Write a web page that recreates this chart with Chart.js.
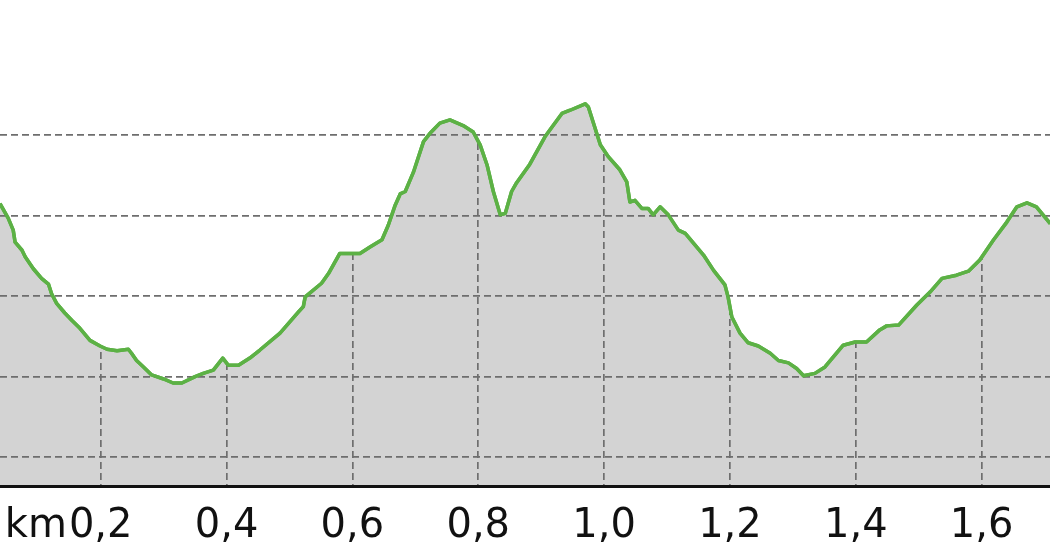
<!DOCTYPE html>
<html lang="pt">
<head>
    <meta charset="UTF-8">
    <title>Perfil de elevação</title>
    <script src="https://cdn.jsdelivr.net/npm/chart.js"></script>
    <style>
        body {
            margin: 0;
            background: #fff;
        }
        canvas {
            display: block;
        }
    </style>
</head>
<body>
    <canvas id="profileChart" width="1050" height="560"></canvas>

    <script>
        // distance along the track (km) and elevation (m)
        const distanceKm = [
            0.040, 0.053, 0.061, 0.064, 0.075, 0.080, 0.093, 0.106, 0.117, 0.122,
            0.130, 0.143, 0.154, 0.167, 0.183, 0.199, 0.210, 0.226, 0.244, 0.249,
            0.257, 0.268, 0.281, 0.300, 0.315, 0.329, 0.350, 0.363, 0.379, 0.394,
            0.403, 0.419, 0.437, 0.453, 0.485, 0.514, 0.522, 0.525, 0.551, 0.562,
            0.580, 0.612, 0.628, 0.647, 0.657, 0.668, 0.676, 0.684, 0.697, 0.713,
            0.723, 0.739, 0.755, 0.776, 0.792, 0.803, 0.814, 0.824, 0.835, 0.843,
            0.853, 0.861, 0.882, 0.906, 0.919, 0.933, 0.946, 0.970, 0.975, 0.994,
            1.007, 1.025, 1.036, 1.041, 1.049, 1.060, 1.070, 1.078, 1.089, 1.102,
            1.118, 1.129, 1.158, 1.174, 1.192, 1.197, 1.203, 1.216, 1.229, 1.245,
            1.264, 1.277, 1.293, 1.306, 1.317, 1.335, 1.351, 1.367, 1.380, 1.399,
            1.417, 1.438, 1.449, 1.468, 1.497, 1.518, 1.537, 1.560, 1.579, 1.597,
            1.619, 1.640, 1.656, 1.672, 1.687, 1.709
        ];
        const elevation = [
            231.5, 229.7, 228.2, 226.7, 225.7, 224.9, 223.4, 222.2, 221.5, 220.3,
            219.1, 217.9, 217.0, 216.0, 214.5, 213.8, 213.4, 213.2, 213.4, 212.9,
            212.0, 211.2, 210.2, 209.7, 209.2, 209.2, 210.0, 210.4, 210.8, 212.3,
            211.4, 211.4, 212.3, 213.3, 215.4, 218.0, 218.7, 219.9, 221.6, 222.8,
            225.3, 225.3, 226.1, 227.0, 228.8, 231.3, 232.7, 233.0, 235.4, 239.2,
            240.2, 241.5, 241.9, 241.2, 240.4, 238.8, 236.3, 233.0, 230.1, 230.3,
            233.0, 234.1, 236.4, 239.8, 241.2, 242.7, 243.1, 243.9, 243.5, 238.8,
            237.3, 235.7, 234.2, 231.7, 231.9, 230.9, 230.9, 230.1, 231.1, 230.1,
            228.2, 227.8, 225.1, 223.2, 221.4, 219.9, 217.4, 215.4, 214.2, 213.8,
            212.9, 212.0, 211.7, 211.0, 210.1, 210.4, 211.2, 212.7, 213.9, 214.3,
            214.3, 215.8, 216.3, 216.4, 218.9, 220.5, 222.2, 222.6, 223.1, 224.5,
            227.0, 229.2, 231.1, 231.6, 231.1, 229.0
        ];

        const xTicks = [0.2, 0.4, 0.6, 0.8, 1.0, 1.2, 1.4, 1.6];
        const yGridLines = [200, 210, 220, 230, 240];
        const unitLabel = 'km';
        const xRange = [0.04, 1.7086];
        const yRange = [196.4, 256.8];

        const labelFont = { family: 'DejaVu Sans', size: 40 };
        const gridDash = [7, 4];

        // grey under the profile: paint the plot area, the white fill above the line covers the rest
        const areaBackground = {
            id: 'areaBackground',
            beforeDraw(chart) {
                const { ctx, chartArea: a } = chart;
                ctx.save();
                ctx.fillStyle = '#d3d3d3';
                ctx.fillRect(a.left, a.top, a.right - a.left, a.bottom - a.top);
                ctx.restore();
            }
        };

        // horizontal grid is drawn above the datasets, so stroke the line once more on top
        const lineOnTop = {
            id: 'lineOnTop',
            afterDraw(chart) {
                const { ctx, chartArea: a } = chart;
                ctx.save();
                ctx.beginPath();
                ctx.rect(a.left, a.top, a.right - a.left, a.bottom - a.top);
                ctx.clip();
                chart.getDatasetMeta(0).dataset.draw(ctx, a);
                ctx.restore();
            }
        };

        // "km" sits just left of the first distance label
        const unitLabelPlugin = {
            id: 'unitLabel',
            afterDraw(chart) {
                const scale = chart.scales.x;
                const ctx = chart.ctx;
                const opts = scale.options.ticks;
                const lineHeight = labelFont.size * 1.2;
                const first = scale.ticks[0];
                ctx.save();
                ctx.font = labelFont.size + 'px "' + labelFont.family + '"';
                const firstW = ctx.measureText(first.label).width;
                const xPos = scale.getPixelForValue(first.value) - firstW / 2 - 2;
                const yPos = scale.top + opts.padding + lineHeight / 2;
                ctx.fillStyle = opts.color;
                ctx.textAlign = 'right';
                ctx.textBaseline = 'middle';
                ctx.fillText(unitLabel, xPos, yPos);
                ctx.restore();
            }
        };

        const ctx = document.getElementById('profileChart').getContext('2d');
        new Chart(ctx, {
            type: 'line',
            data: {
                datasets: [{
                    data: distanceKm.map((d, i) => ({ x: d, y: elevation[i] })),
                    borderColor: '#5cb145',
                    borderWidth: 3.5,
                    backgroundColor: '#ffffff',
                    fill: 'end',
                    pointRadius: 0,
                    tension: 0,
                    borderJoinStyle: 'round'
                }]
            },
            options: {
                responsive: false,
                animation: false,
                layout: { padding: 0 },
                plugins: {
                    legend: { display: false },
                    tooltip: { enabled: false }
                },
                scales: {
                    x: {
                        type: 'linear',
                        min: xRange[0],
                        max: xRange[1],
                        afterBuildTicks: s => { s.ticks = xTicks.map(v => ({ value: v })); },
                        afterFit: s => { s.height = 74; },
                        ticks: {
                            autoSkip: false,
                            maxRotation: 0,
                            padding: 17,
                            color: '#111111',
                            font: labelFont,
                            callback: v => v.toFixed(1).replace('.', ',')
                        },
                        grid: { color: '#6e6e6e', lineWidth: 1.7, drawTicks: false },
                        border: { display: true, color: '#111111', width: 3, dash: gridDash }
                    },
                    y: {
                        type: 'linear',
                        min: yRange[0],
                        max: yRange[1],
                        z: 1,
                        afterBuildTicks: s => { s.ticks = yGridLines.map(v => ({ value: v })); },
                        ticks: { display: false },
                        grid: { color: '#6e6e6e', lineWidth: 1.7, drawTicks: false, z: 1 },
                        border: { display: false, dash: gridDash }
                    }
                }
            },
            plugins: [areaBackground, lineOnTop, unitLabelPlugin]
        });
    </script>
</body>
</html>
